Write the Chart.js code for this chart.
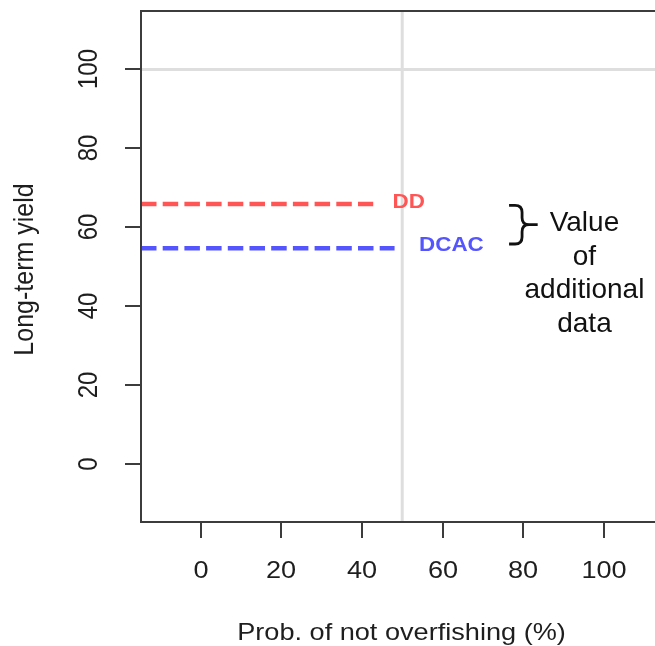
<!DOCTYPE html>
<html>
<head>
<meta charset="utf-8">
<script src="https://cdn.jsdelivr.net/npm/chart.js@4.4.1/dist/chart.umd.min.js"></script>
<style>
html,body{margin:0;padding:0;background:#ffffff;overflow:hidden;}
canvas{display:block;}
</style>
</head>
<body>
<canvas id="c" width="655" height="646"></canvas>
<script>
// ---- data ----
const xRange = [-14.8, 112.7];
const yRange = [-14.6, 114.8];
const xTicks = [0, 20, 40, 60, 80, 100];
const yTicks = [0, 20, 40, 60, 80, 100];
const seriesNames = ['DD', 'DCAC'];
const ddX = [-14.8, 42.8];
const ddY = [65.9, 65.9];
const dcacX = [-14.8, 48.1];
const dcacY = [54.7, 54.7];
const refVX = [50, 50];
const refVY = [-14.6, 114.8];
const refHX = [-14.8, 112.7];
const refHY = [100, 100];
const labelX = [51.6, 62.2];
const labelY = [66.4, 55.3];
const braceX = [76.5, 83.6];
const braceY = [65.6, 55.8];
const noteX = 95.2;
const noteY = 61.0;
const noteLines = ['Value', 'of', 'additional', 'data'];
const xTitle = 'Prob. of not overfishing (%)';
const yTitle = 'Long-term yield';

const FAM = '"Liberation Sans", Arial, Helvetica, sans-serif';
const RED = '#ff5555';
const BLUE = '#5555ff';
const AXC = '#3c3c3c';

function pts(xs, ys) { return xs.map((x, i) => ({x: x, y: ys[i]})); }

function txt(ctx, s, x, y, font, color, sx, rot) {
  ctx.save();
  ctx.translate(x, y);
  ctx.scale(sx, 1);
  if (rot) ctx.rotate(rot);
  ctx.font = font;
  ctx.fillStyle = color;
  ctx.textAlign = 'center';
  ctx.textBaseline = 'middle';
  ctx.fillText(s, 0, 0);
  ctx.restore();
}

const axesPlugin = {
  id: 'rAxes',
  afterDatasetsDraw(chart) {
    const ctx = chart.ctx;
    const a = chart.chartArea;
    const xs = chart.scales.x, ys = chart.scales.y;
    ctx.save();
    // box
    ctx.strokeStyle = AXC;
    ctx.lineWidth = 2;
    ctx.strokeRect(a.left, a.top, a.right - a.left + 40, a.bottom - a.top);
    // y ticks
    yTicks.forEach(v => {
      const y = Math.round(ys.getPixelForValue(v));
      ctx.beginPath();
      ctx.moveTo(a.left - 16, y);
      ctx.lineTo(a.left, y);
      ctx.stroke();
      txt(ctx, String(v), 90, y, '24px ' + FAM, '#1e1e1e', 1.13, -Math.PI / 2);
    });
    // x ticks
    xTicks.forEach(v => {
      const x = Math.round(xs.getPixelForValue(v));
      ctx.beginPath();
      ctx.moveTo(x, a.bottom);
      ctx.lineTo(x, a.bottom + 16);
      ctx.stroke();
      txt(ctx, String(v), x, 571, '24px ' + FAM, '#1e1e1e', 1.13, 0);
    });
    // titles
    txt(ctx, xTitle, (a.left + 662) / 2, 633, '24px ' + FAM, '#1e1e1e', 1.13, 0);
    txt(ctx, yTitle, 25, (a.top + a.bottom) / 2 + 3, '25px ' + FAM, '#1e1e1e', 1.1, -Math.PI / 2);
    // series labels
    const lc = [RED, BLUE];
    seriesNames.forEach((n, i) => {
      txt(ctx, n, xs.getPixelForValue(labelX[i]), ys.getPixelForValue(labelY[i]),
        'bold 20px ' + FAM, lc[i], 1.12, 0);
    });
    // brace
    const x0 = xs.getPixelForValue(braceX[0]);
    const tip = xs.getPixelForValue(braceX[1]);
    const yT = ys.getPixelForValue(braceY[0]);
    const yB = ys.getPixelForValue(braceY[1]);
    const yM = (yT + yB) / 2;
    const xc = x0 + 13, r = 7;
    ctx.strokeStyle = '#111';
    ctx.lineWidth = 2.8;
    ctx.beginPath();
    ctx.moveTo(x0, yT);
    ctx.lineTo(xc - r, yT);
    ctx.quadraticCurveTo(xc, yT, xc, yT + r);
    ctx.lineTo(xc, yM - r);
    ctx.quadraticCurveTo(xc, yM, xc + r, yM);
    ctx.lineTo(tip, yM);
    ctx.moveTo(xc + r, yM);
    ctx.quadraticCurveTo(xc, yM, xc, yM + r);
    ctx.lineTo(xc, yB - r);
    ctx.quadraticCurveTo(xc, yB, xc - r, yB);
    ctx.lineTo(x0, yB);
    ctx.stroke();
    // note
    const nx = xs.getPixelForValue(noteX);
    const ny = ys.getPixelForValue(noteY);
    noteLines.forEach((s, i) => {
      txt(ctx, s, nx, ny + i * 33.5, '28px ' + FAM, '#111', 1, 0);
    });
    ctx.restore();
  }
};

new Chart(document.getElementById('c'), {
  type: 'scatter',
  data: {
    datasets: [
      {label: seriesNames[0], data: pts(ddX, ddY), showLine: true, borderColor: RED, borderWidth: 4.5,
       borderDash: [15.5, 6.2], borderCapStyle: 'butt', pointRadius: 0, order: 1},
      {label: seriesNames[1], data: pts(dcacX, dcacY), showLine: true, borderColor: BLUE, borderWidth: 4.5,
       borderDash: [15.5, 6.2], borderCapStyle: 'butt', pointRadius: 0, order: 1},
      {label: 'ref50', data: pts(refVX, refVY), showLine: true, borderColor: '#dedede', borderWidth: 3,
       pointRadius: 0, order: 5},
      {label: 'ref100', data: pts(refHX, refHY), showLine: true, borderColor: '#dedede', borderWidth: 3,
       pointRadius: 0, order: 5}
    ]
  },
  options: {
    responsive: false,
    animation: false,
    devicePixelRatio: 1,
    layout: {padding: {top: 11, left: 0, right: 0, bottom: 0}},
    plugins: {legend: {display: false}, tooltip: {enabled: false}},
    scales: {
      x: {type: 'linear', min: xRange[0], max: xRange[1],
          grid: {display: false}, border: {display: false}, ticks: {display: false},
          afterFit: s => { s.height = 124; }},
      y: {type: 'linear', min: yRange[0], max: yRange[1],
          grid: {display: false}, border: {display: false}, ticks: {display: false},
          afterFit: s => { s.width = 141; }}
    }
  },
  plugins: [axesPlugin]
});
</script>
</body>
</html>
